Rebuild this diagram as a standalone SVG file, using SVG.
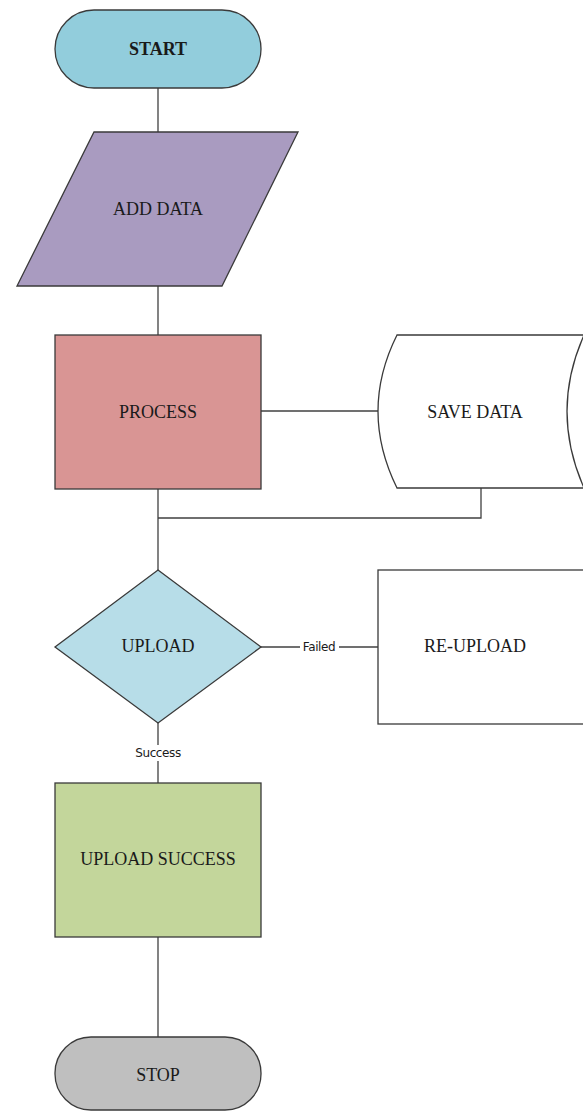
<svg xmlns="http://www.w3.org/2000/svg" width="583" height="1111" viewBox="0 0 583 1111">
<style>
.shape{stroke:#3a3a3a;stroke-width:1.3}
.conn{stroke:#404040;stroke-width:1.3;fill:none}
.t{font-family:"Liberation Serif","Times New Roman",serif;font-size:18px;fill:#1a1a1a;text-anchor:middle;dominant-baseline:central}
.lbl{font-family:"DejaVu Sans","Noto Sans",sans-serif;font-size:12px;letter-spacing:-0.4px;fill:#1a1a1a;text-anchor:middle;dominant-baseline:central}
</style>
<rect width="583" height="1111" fill="#ffffff"/>
<g id="connectors">
<line class="conn" x1="158" y1="88" x2="158" y2="132"/>
<line class="conn" x1="158" y1="286" x2="158" y2="335"/>
<line class="conn" x1="261" y1="411" x2="380" y2="411"/>
<polyline class="conn" points="481,488 481,518 158,518"/>
<line class="conn" x1="158" y1="489" x2="158" y2="570"/>
<line class="conn" x1="261" y1="647" x2="378" y2="647"/>
<line class="conn" x1="158" y1="723" x2="158" y2="783"/>
<line class="conn" x1="158" y1="937" x2="158" y2="1037"/>
<rect x="300" y="639" width="39" height="16" fill="#ffffff"/>
<text class="lbl" x="319" y="647">Failed</text>
<rect x="132" y="745" width="52" height="16" fill="#ffffff"/>
<text class="lbl" x="158" y="753">Success</text>
</g>
<g id="start">
<rect class="shape" x="55" y="10" width="206" height="78" rx="39" ry="39" fill="#92CDDC"/>
<text class="t" x="158" y="49" font-weight="bold">START</text>
</g>
<g id="add-data">
<polygon class="shape" points="94,132 298,132 222,286 17,286" fill="#A99BC0"/>
<text class="t" x="158" y="209">ADD DATA</text>
</g>
<g id="process">
<rect class="shape" x="55" y="335" width="206" height="154" fill="#D99594"/>
<text class="t" x="158" y="412">PROCESS</text>
</g>
<g id="save-data">
<path class="shape" d="M397,335 L584,335 Q550,411 584,488 L397,488 Q359,411 397,335 Z" fill="#ffffff"/>
<text class="t" x="475" y="412">SAVE DATA</text>
</g>
<g id="upload">
<polygon class="shape" points="158,570 261,647 158,723 55,647" fill="#B7DDE8"/>
<text class="t" x="158" y="646">UPLOAD</text>
</g>
<g id="re-upload">
<rect class="shape" x="378" y="570" width="206" height="154" fill="#ffffff"/>
<text class="t" x="475" y="646">RE-UPLOAD</text>
</g>
<g id="upload-success">
<rect class="shape" x="55" y="783" width="206" height="154" fill="#C3D69B"/>
<text class="t" x="158" y="859">UPLOAD SUCCESS</text>
</g>
<g id="stop">
<rect class="shape" x="55" y="1037" width="206" height="73" rx="36" ry="36" fill="#BFBFBF"/>
<text class="t" x="158" y="1075">STOP</text>
</g>
</svg>
